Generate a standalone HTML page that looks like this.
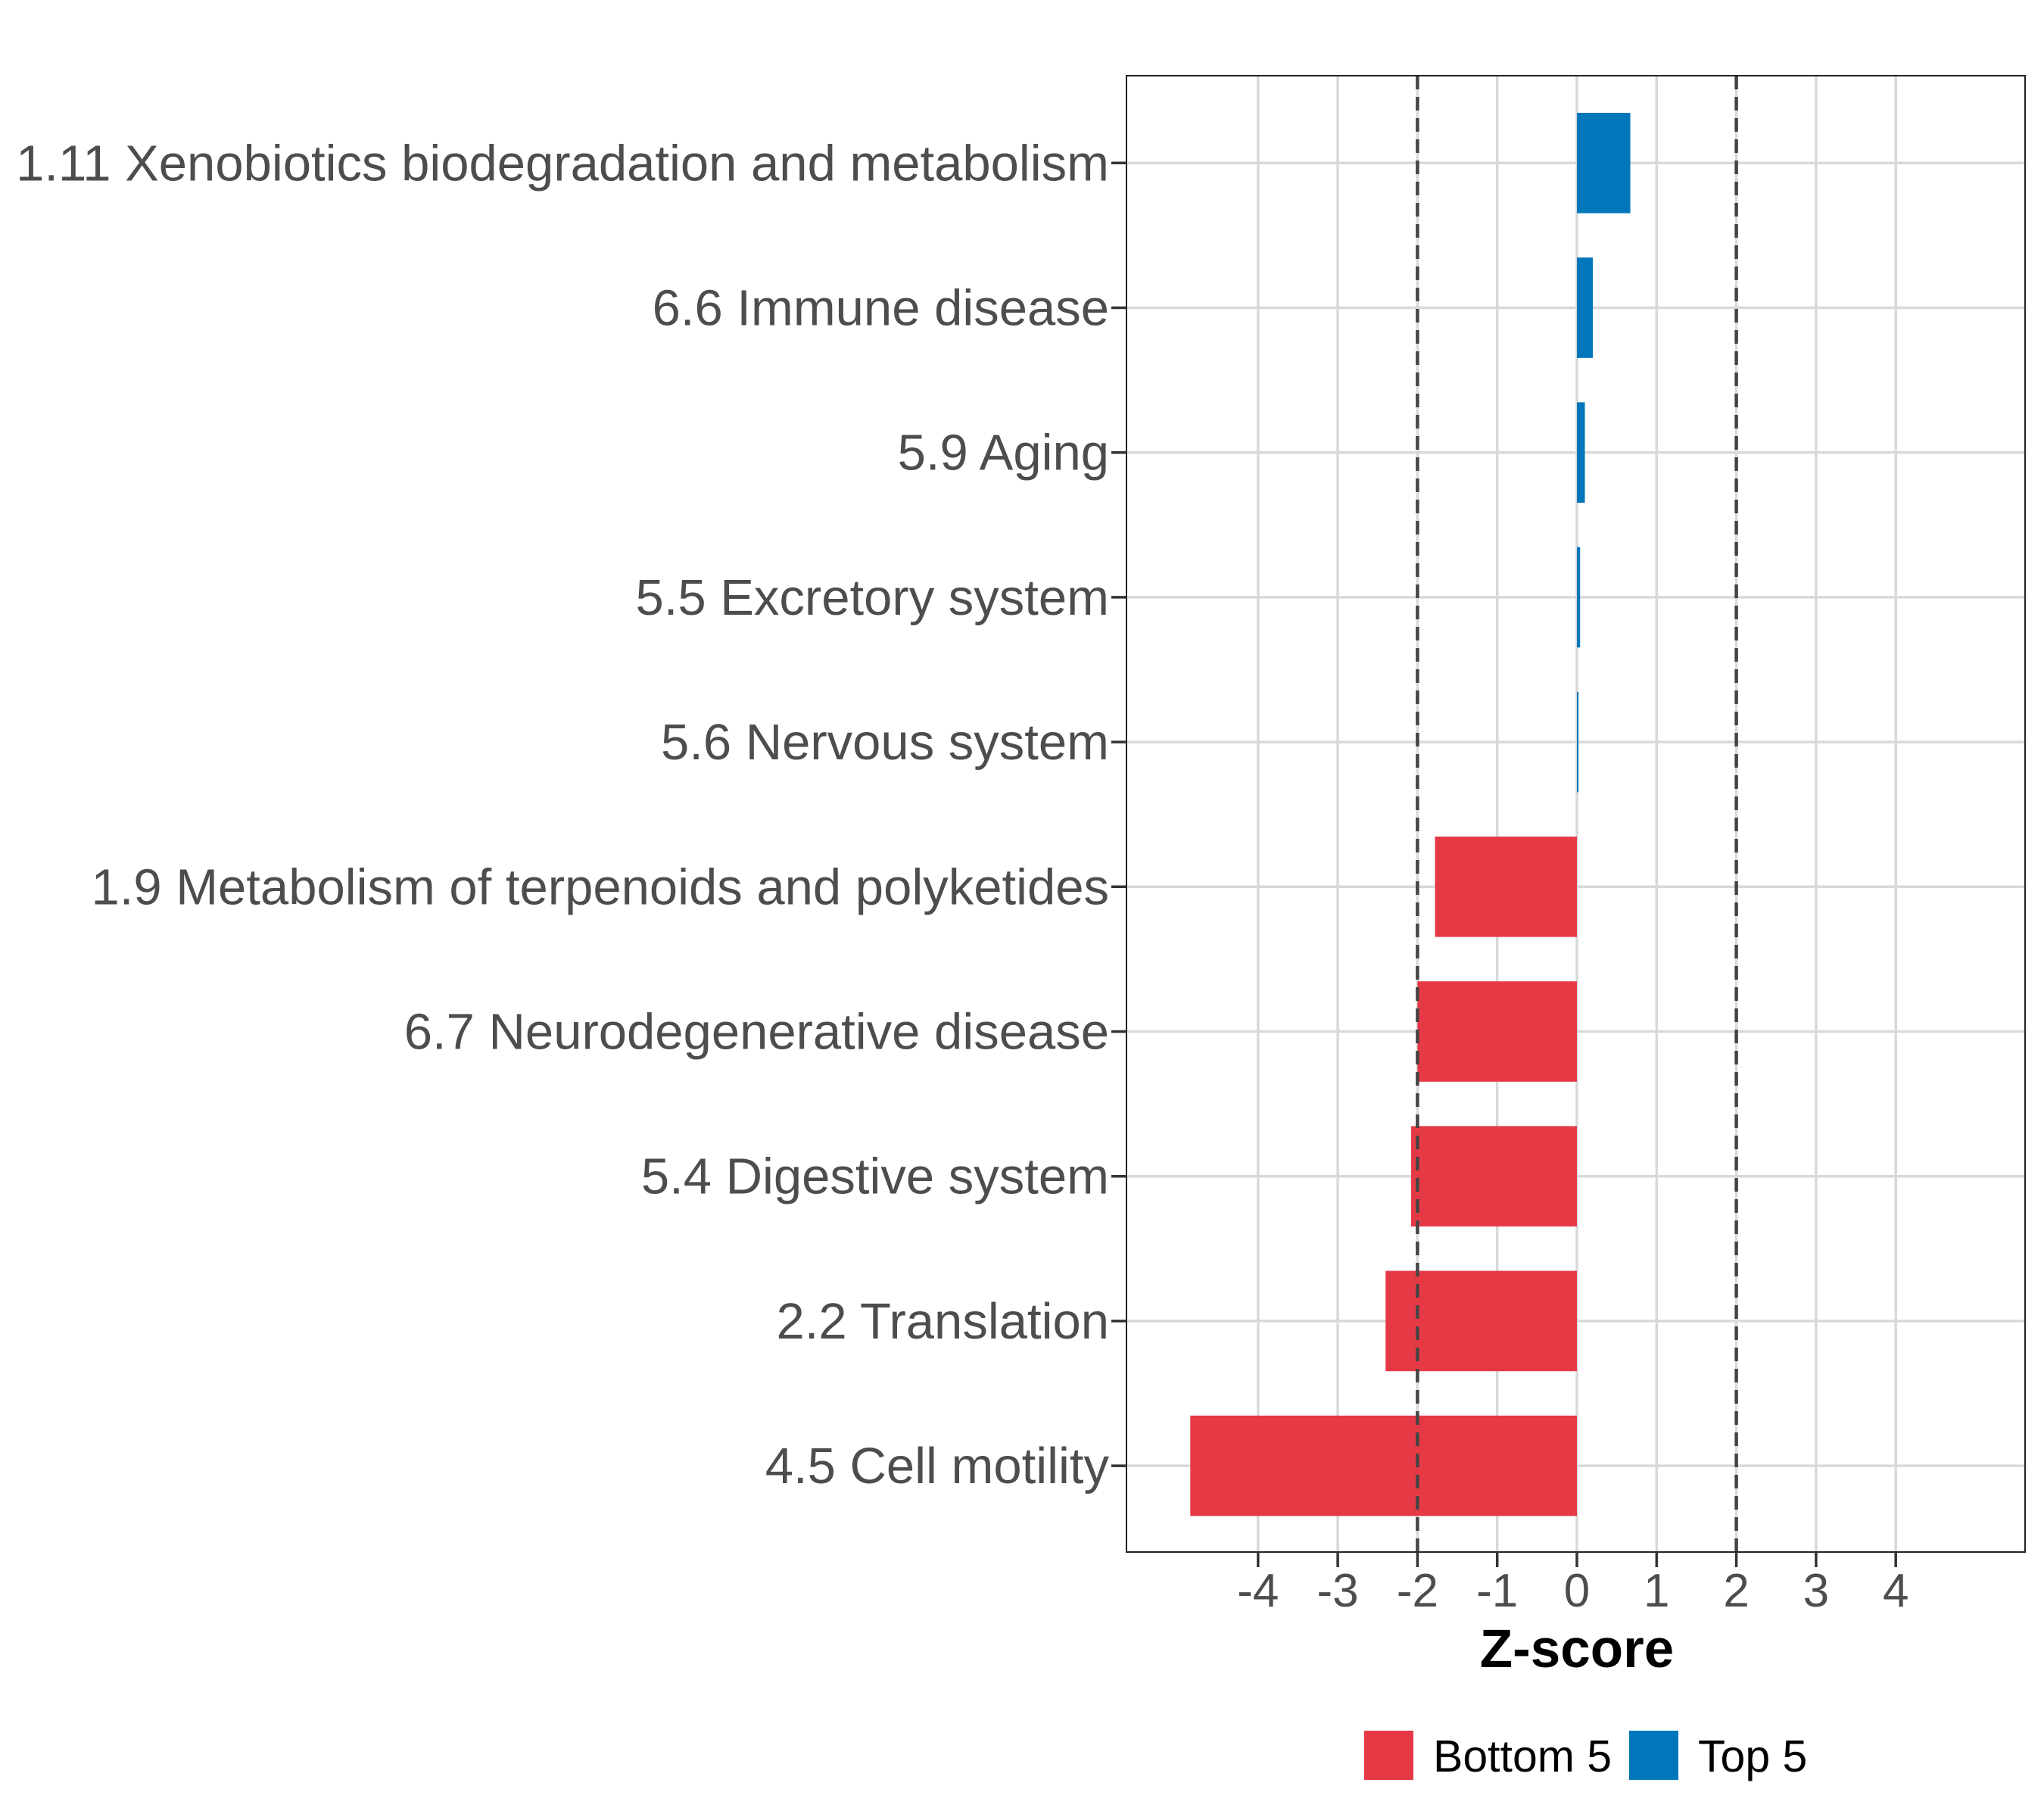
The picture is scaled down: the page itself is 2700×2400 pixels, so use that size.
<!DOCTYPE html>
<html><head><meta charset="utf-8"><style>
html,body{margin:0;padding:0;background:#fff;}
svg{display:block;font-family:"Liberation Sans",sans-serif;}
</style></head><body>
<svg id="chart" width="2700" height="2400" viewBox="0 0 2700 2400"></svg>
<script>
const categories = ["1.11 Xenobiotics biodegradation and metabolism","6.6 Immune disease","5.9 Aging","5.5 Excretory system","5.6 Nervous system","1.9 Metabolism of terpenoids and polyketides","6.7 Neurodegenerative disease","5.4 Digestive system","2.2 Translation","4.5 Cell motility"];
const zscores = [0.67,0.2,0.1,0.04,0.02,-1.78,-2.0,-2.08,-2.4,-4.85];
const groups = ["Top 5","Top 5","Top 5","Top 5","Top 5","Bottom 5","Bottom 5","Bottom 5","Bottom 5","Bottom 5"];
const xTicks = [-4,-3,-2,-1,0,1,2,3,4];
const thresholds = [-2,2];

const svg = document.getElementById('chart');
const NS = 'http://www.w3.org/2000/svg';
const L=1488,R=2675,T=100,B=2050;
const x0=2083, ux=105.3;
const xs = v => x0 + v*ux;
const rowY = i => 215.3 + i*191.2;
const barH = 132.6;
const colors = {"Bottom 5":"#E63946","Top 5":"#0077BB"};
function mk(tag, attrs){const e=document.createElementNS(NS,tag);for(const k in attrs)e.setAttribute(k,attrs[k]);svg.appendChild(e);return e;}

xTicks.forEach(t=>{
  const g=mk('line',{x1:xs(t),x2:xs(t),y1:T,y2:B,stroke:'#d9d9d9','stroke-width':3.5});
  
  
});
categories.forEach((c,i)=>{
  const g=mk('line',{x1:L,x2:R,y1:rowY(i),y2:rowY(i),stroke:'#d9d9d9','stroke-width':3.5});
  
  
});
categories.forEach((c,i)=>{
  const v=zscores[i];
  const xa=Math.min(xs(0),xs(v)), w=Math.abs(xs(v)-xs(0));
  const b=mk('rect',{x:xa,y:rowY(i)-barH/2,width:w,height:barH,fill:colors[groups[i]]});
  
  
});
thresholds.forEach(t=>{
  const d=mk('line',{x1:xs(t),x2:xs(t),y1:T,y2:B,stroke:'#444','stroke-width':4.5,'stroke-dasharray':'18,10'});
  
  
});
const pb=mk('rect',{x:L,y:T,width:R-L,height:B-T,fill:'none',stroke:'#222','stroke-width':2});


categories.forEach((c,i)=>{
  const tk=mk('line',{x1:L-20,x2:L,y1:rowY(i),y2:rowY(i),stroke:'#333','stroke-width':3.5});
  
  
  const t=mk('text',{x:1465,y:rowY(i)+23,'text-anchor':'end','font-size':67,fill:'#4d4d4d'});
  t.textContent=c;
  
  
});
xTicks.forEach(v=>{
  const tk=mk('line',{x1:xs(v),x2:xs(v),y1:B,y2:B+20,stroke:'#333','stroke-width':3.5});
  
  
  const t=mk('text',{x:xs(v),y:2122,'text-anchor':'middle','font-size':62,fill:'#4d4d4d'});
  t.textContent=v;
  
  
});
const xt=mk('text',{x:xs(0),y:2202,'text-anchor':'middle','font-size':71,'font-weight':'bold',fill:'#000'});
xt.textContent='Z-score';


const legend=[["Bottom 5",1802,1893],["Top 5",2152,2243]];
legend.forEach(([lab,kx,tx])=>{
  const k=mk('rect',{x:kx,y:2286,width:65,height:65,fill:colors[lab]});
  
  
  const t=mk('text',{x:tx,y:2340,'font-size':59,fill:'#000'});
  t.textContent=lab;
  
  
});
</script>
</body></html>
